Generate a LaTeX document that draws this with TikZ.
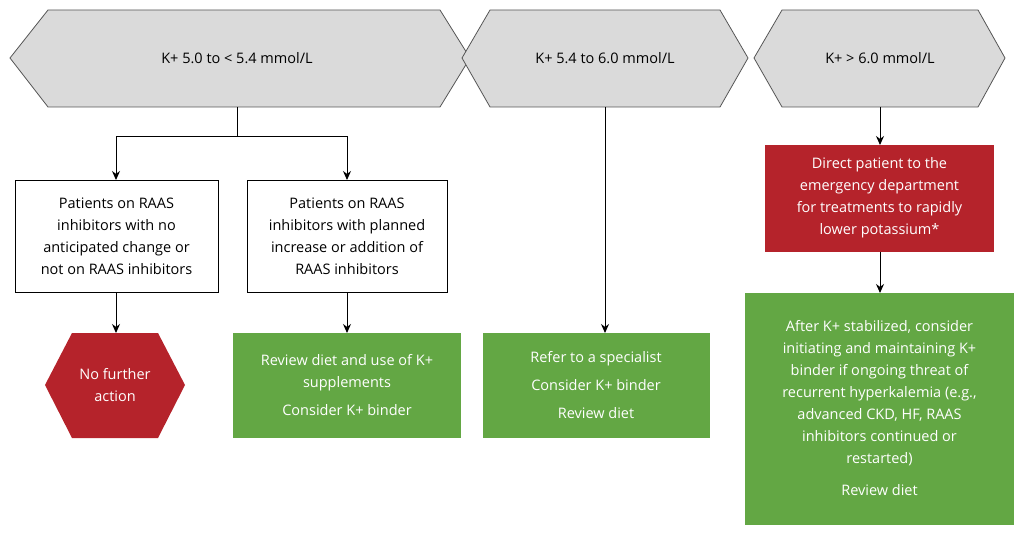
\documentclass[tikz,border=0pt]{standalone}
\usepackage{fontspec}
\setmainfont{Open Sans}
\usetikzlibrary{arrows.meta}
\definecolor{hdr}{HTML}{DADADA}
\definecolor{hdrline}{HTML}{555555}
\definecolor{myred}{HTML}{B5232B}
\definecolor{mygreen}{HTML}{63A744}
\begin{document}
\begin{tikzpicture}[x=1pt,y=-1pt,
  txt/.style={font=\fontsize{14.5}{22}\selectfont,align=center},
  hdrshape/.style={fill=hdr,draw=hdrline,line width=0.8pt},
  wbox/.style={draw=black,line width=0.8pt,fill=white},
  conn/.style={line width=1pt,-{Stealth[length=9pt,width=8pt]}},
  ln/.style={line width=1pt}]
\useasboundingbox (0,0) rectangle (1024,537);
% headers
\draw[hdrshape] (10,58)--(48,10)--(440,10)--(470,58)--(440,107)--(48,107)--cycle;
\draw[hdrshape] (462,58)--(490,10)--(720,10)--(748,58)--(720,107)--(490,107)--cycle;
\draw[hdrshape] (754,58)--(782,10)--(978,10)--(1005,58)--(978,107)--(782,107)--cycle;
\node[txt] (h1) at (237,58) {K+ 5.0 to < 5.4 mmol/L};
\node[txt] (h2) at (605,58) {K+ 5.4 to 6.0 mmol/L};
\node[txt] (h3) at (880,58) {K+ > 6.0 mmol/L};
\coordinate (h1b) at (237,107);
\coordinate (h2b) at (605,107);
\coordinate (h3b) at (880,107);
% white boxes
\draw[wbox] (15,180) rectangle (218,292);
\node[txt] (a) at (116.5,236) {Patients on RAAS\\inhibitors with no\\anticipated change or\\not on RAAS inhibitors};
\draw[wbox] (247,180) rectangle (447,292);
\node[txt] (b) at (347,236) {Patients on RAAS\\inhibitors with planned\\increase or addition of\\RAAS inhibitors};
\coordinate (ab) at (116,292); \coordinate (at) at (116,180);
\coordinate (bb) at (347,292); \coordinate (bt) at (347,180);
% red hexagon
\fill[myred] (45,385)--(72,333)--(158,333)--(185,385)--(158,438)--(72,438)--cycle;
\node[txt,text=white] (nf) at (115,385) {No further\\action};
\coordinate (nft) at (116,333);
% green boxes
\fill[mygreen] (233,333) rectangle (461,438);
\node[txt,text=white] (g1) at (347,385) {Review diet and use of K+\\supplements\\[6pt]Consider K+ binder};
\coordinate (g1t) at (347,333);
\fill[mygreen] (483,333) rectangle (710,438);
\node[txt,text=white,font=\fontsize{14.5}{28}\selectfont] (g2) at (596,385) {Refer to a specialist\\Consider K+ binder\\Review diet};
\coordinate (g2t) at (605,333);
\fill[myred] (765,145) rectangle (994,252);
\node[txt,text=white] (r) at (879.5,198) {Direct patient to the\\emergency department\\for treatments to rapidly\\lower potassium*};
\coordinate (rt) at (880,145); \coordinate (rb) at (880,252);
\fill[mygreen] (745,293) rectangle (1014,525);
\node[txt,text=white] (g3) at (879.5,408) {After K+ stabilized, consider\\initiating and maintaining K+\\binder if ongoing threat of\\recurrent hyperkalemia (e.g.,\\advanced CKD, HF, RAAS\\inhibitors continued or\\restarted)\\[10pt]Review diet};
\coordinate (g3t) at (880,293);
% connectors
\coordinate (j) at (237,137);
\draw[ln] (h1b)--(j);
\draw[conn] (j)-|(at);
\draw[conn] (j)-|(bt);
\draw[conn] (ab)--(nft);
\draw[conn] (bb)--(g1t);
\draw[conn] (h2b)--(g2t);
\draw[conn] (h3b)--(rt);
\draw[conn] (rb)--(g3t);
\end{tikzpicture}
\end{document}
